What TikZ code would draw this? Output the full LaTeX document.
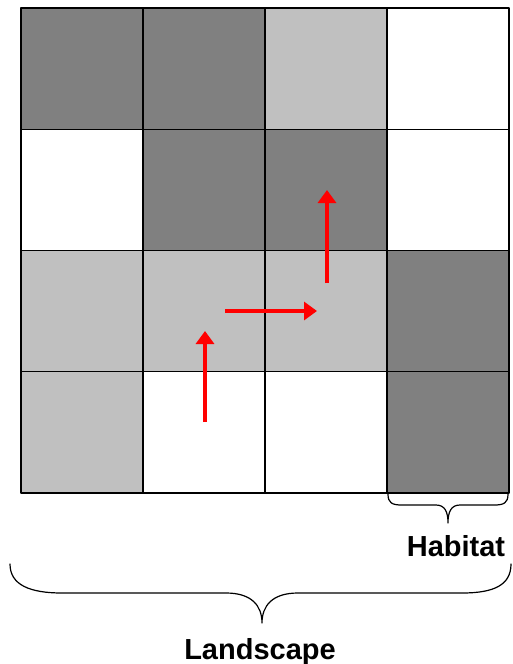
\documentclass[tikz,border=0pt]{standalone}
\usepackage{fontspec}
\setmainfont{Liberation Sans}
\usetikzlibrary{arrows.meta}
\definecolor{cellDark}{gray}{.5}
\definecolor{cellLight}{gray}{.753}
\begin{document}
\begin{tikzpicture}[x=1pt,y=-1pt,line join=round]
  \tikzset{cell/.style={draw,line width=1.2pt},
    move/.style={draw=red,line width=3.6pt,-{Triangle[length=13pt,width=18pt]}},
    brace/.style={draw,line width=1.2pt,line cap=round},
    label/.style={font=\fontsize{29}{32}\selectfont\bfseries,inner sep=0pt,anchor=base}}
  \useasboundingbox (0,0) rectangle (512,664);
  % grid of cells, row by row from the top
  \foreach \shade [count=\i from 0] in {cellDark,cellDark,cellLight,white,
                                         white,cellDark,cellDark,white,
                                         cellLight,cellLight,cellLight,cellDark,
                                         cellLight,white,white,cellDark}{
    \pgfmathtruncatemacro\col{mod(\i,4)}
    \pgfmathtruncatemacro\row{div(\i,4)}
    \path[cell,fill=\shade] (21+122*\col,8+121.25*\row) rectangle ++(122,121.25);
  }
  % path of the animal
  \coordinate (m1s) at (205,422); \coordinate (m1e) at (205,331);
  \coordinate (m2s) at (225,311); \coordinate (m2e) at (317,311);
  \coordinate (m3s) at (327,283); \coordinate (m3e) at (327,190);
  \draw[move] (m1s)--(m1e);
  \draw[move] (m2s)--(m2e);
  \draw[move] (m3s)--(m3e);
  % braces
  \draw[brace] (388,494) .. controls (388,503) and (392,505) .. (402,505) -- (436,505)
    .. controls (445,505) and (448,512) .. (448,523)
    .. controls (448,512) and (451,505) .. (460,505) -- (494,505)
    .. controls (504,505) and (508,503) .. (508,494);
  \draw[brace] (10,564) .. controls (10,585) and (30,593) .. (62,593) -- (226,593)
    .. controls (252,593) and (262,606) .. (262,623)
    .. controls (262,606) and (272,593) .. (298,593) -- (462,593)
    .. controls (494,593) and (511,585) .. (511,564);
  \node[label] (habitat) at (456,556) {Habitat};
  \node[label] (landscape) at (260,659) {Landscape};
\end{tikzpicture}
\end{document}
